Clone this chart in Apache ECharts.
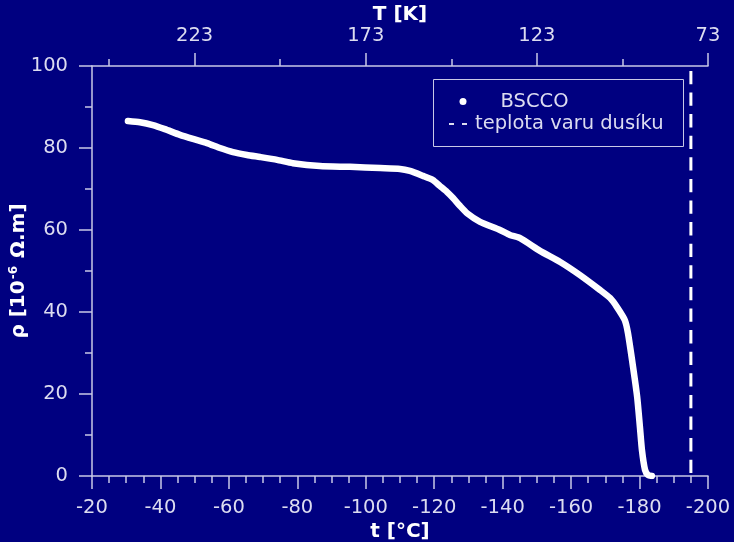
<!DOCTYPE html>
<html>
<head>
<meta charset="utf-8">
<script src="https://cdn.jsdelivr.net/npm/echarts@6/dist/echarts.min.js"></script>
<style>
html,body{margin:0;padding:0;background:#000080;}
#c{width:734px;height:542px;}
</style>
</head>
<body>
<div id="c"></div>
<script>
// Temperature t [°C] and resistivity rho [1e-6 Ohm.m] of BSCCO
const tempC = [-30.5, -34.0, -37.8, -41.3, -45.7, -49.5, -53.6, -57.4, -61.2, -65.3, -69.1, -74.1, -78.7, -86.6, -95.4, -104.2, -110.0, -112.9, -116.7, -119.6, -121.7, -123.7, -125.5, -127.5, -129.6, -133.4, -139.2, -142.1, -145.1, -150.9, -156.8, -162.6, -168.4, -171.4, -173.4, -175.7, -176.6, -178.1, -179.3, -180.1, -180.7, -181.6, -182.5, -183.6];
const rho   = [86.6, 86.3, 85.6, 84.6, 83.2, 82.2, 81.2, 80.0, 79.0, 78.3, 77.8, 77.1, 76.3, 75.6, 75.4, 75.1, 74.9, 74.4, 73.2, 72.2, 70.7, 69.3, 67.8, 65.9, 64.1, 62.0, 60.0, 58.8, 58.0, 54.9, 52.2, 49.0, 45.4, 43.4, 41.2, 38.0, 34.9, 26.6, 19.3, 12.0, 6.3, 1.5, 0.2, 0];
// Boiling point of nitrogen [°C]
const nitrogenT = -195;
const nitrogenRho = [0, 100];
// Axis ticks
const topMajorC = [-200, -150, -100, -50];   // labelled in K (t + 273)
const topMinorC = [-175, -125, -75, -25];
const bottomMajorC = [-200, -180, -160, -140, -120, -100, -80, -60, -40, -20];
const bottomMinorC = [-195, -190, -185, -175, -170, -165, -155, -150, -145, -135, -130, -125, -115, -110, -105, -95, -90, -85, -75, -70, -65, -55, -50, -45, -35, -30, -25];

const LABEL = '#dcdcf0';
const LINE = '#c8c8e6';
const FONT = 'DejaVu Sans';

const bsccoData = tempC.map((t, i) => [t, rho[i]]);
const n2Data = nitrogenRho.map(r => [nitrogenT, r]);

const gridBox = {left: 92, right: 26, top: 66, bottom: 66, containLabel: false, outerBoundsMode: 'none'};
const tickLine = {color: LINE, width: 1.5};

// tick-only axis helper (top-positioned, ticks pointing up from the grid's top edge)
function tickAxis(gridIndex, values, len) {
  return {
    gridIndex: gridIndex, type: 'value', position: 'top', min: -200, max: -20, inverse: true,
    axisLine: {show: false, onZero: false},
    axisTick: {show: true, inside: false, length: len, customValues: values, lineStyle: tickLine},
    splitLine: {show: false},
    axisLabel: {show: false}
  };
}

const chart = echarts.init(document.getElementById('c'), null, {renderer: 'canvas'});
chart.setOption({
  backgroundColor: '#000080',
  animation: false,
  textStyle: {fontFamily: FONT},
  grid: [
    Object.assign({}, gridBox),
    Object.assign({}, gridBox),
    {left: 92, right: 26, top: 483, height: 30, containLabel: false, outerBoundsMode: 'none'},
    {left: 92, right: 26, top: 489, height: 30, containLabel: false, outerBoundsMode: 'none'}
  ],
  xAxis: [
    {
      gridIndex: 0, type: 'value', position: 'bottom', min: -200, max: -20, interval: 20, inverse: true,
      axisLine: {show: true, onZero: false, lineStyle: tickLine},
      axisTick: {show: true, inside: false, length: 13, lineStyle: tickLine},
      splitLine: {show: false},
      axisLabel: {color: LABEL, fontSize: 19.5, margin: 22, fontFamily: FONT},
      name: 't [°C]', nameLocation: 'middle', nameGap: 46, nameMoveOverlap: false,
      nameTextStyle: {color: '#ffffff', fontSize: 20, fontWeight: 'bold', fontFamily: FONT}
    },
    {
      gridIndex: 0, type: 'value', position: 'top', min: -200, max: -20, inverse: true,
      axisLine: {show: true, onZero: false, lineStyle: tickLine},
      axisTick: {show: true, inside: false, length: 13, customValues: topMajorC, lineStyle: tickLine},
      splitLine: {show: false},
      axisLabel: {show: true, customValues: topMajorC, color: LABEL, fontSize: 19.5, margin: 20, fontFamily: FONT,
        formatter: v => String(Math.round(v + 273))},
      name: 'T [K]', nameLocation: 'middle', nameGap: 41, nameMoveOverlap: false,
      nameTextStyle: {color: '#ffffff', fontSize: 20, fontWeight: 'bold', fontFamily: FONT}
    },
    tickAxis(1, topMinorC, 7),       // minor ticks of the top (K) axis
    tickAxis(2, bottomMinorC, 7),    // minor ticks below the bottom axis (every 5 °C)
    tickAxis(3, bottomMajorC, 13)    // major ticks below the bottom axis (every 20 °C)
  ],
  yAxis: [
    {
      gridIndex: 0, type: 'value', min: 0, max: 100, interval: 20,
      axisLine: {show: true, onZero: false, lineStyle: tickLine},
      axisTick: {show: true, inside: false, length: 13, lineStyle: tickLine},
      minorTick: {show: true, splitNumber: 2, length: 7, lineStyle: tickLine},
      splitLine: {show: false},
      axisLabel: {color: LABEL, fontSize: 19.5, margin: 24, fontFamily: FONT},
      name: '{a|ρ [10}{b|-6}{a| Ω.m]}', nameLocation: 'middle', nameGap: 63, nameRotate: 90, nameMoveOverlap: false,
      nameTextStyle: {
        rich: {
          a: {color: '#ffffff', fontSize: 20, fontWeight: 'bold', fontFamily: FONT},
          b: {color: '#ffffff', fontSize: 12, fontWeight: 'bold', fontFamily: FONT, padding: [0, 1, 9, 1]}
        }
      }
    },
    {gridIndex: 1, type: 'value', min: 0, max: 100, show: false},
    {gridIndex: 2, type: 'value', min: 0, max: 1, show: false},
    {gridIndex: 3, type: 'value', min: 0, max: 1, show: false}
  ],
  legend: [
    {
      data: [{name: 'BSCCO', icon: 'circle'}],
      left: 459.5, top: 91.5, padding: 0,
      itemWidth: 7, itemHeight: 7,
      itemStyle: {color: '#ffffff', borderWidth: 0},
      textStyle: {color: LABEL, fontSize: 19.5, fontFamily: FONT, padding: [0, 0, 0, 29]},
      selectedMode: false
    },
    {
      data: [{name: 'teplota varu dusíku', icon: 'path://M0,0h5v2h-5z M13,0h5v2h-5z'}],
      left: 449, top: 114, padding: 0,
      itemWidth: 18, itemHeight: 2,
      itemStyle: {color: LABEL, borderWidth: 0},
      textStyle: {color: LABEL, fontSize: 19.5, fontFamily: FONT, padding: [0, 0, 0, 3]},
      selectedMode: false
    }
  ],
  graphic: [
    {type: 'rect', left: 431, top: 77, shape: {width: 250, height: 67}, silent: true,
     style: {fill: 'none', stroke: LINE, lineWidth: 1}, z: 100}
  ],
  series: [
    {
      name: 'BSCCO', type: 'line', xAxisIndex: 0, yAxisIndex: 0,
      data: bsccoData, symbol: 'none', showSymbol: false,
      smooth: 0.2,
      lineStyle: {color: '#ffffff', width: 6.5, cap: 'round', join: 'round'},
      itemStyle: {color: '#ffffff'},
      z: 3
    },
    {
      name: 'teplota varu dusíku', type: 'line', xAxisIndex: 0, yAxisIndex: 0,
      data: n2Data, symbol: 'none', showSymbol: false,
      lineStyle: {color: '#ffffff', width: 3, type: [13.3, 8.3], dashOffset: 18.6},
      itemStyle: {color: '#ffffff'},
      z: 2
    }
  ]
});
</script>
</body>
</html>
